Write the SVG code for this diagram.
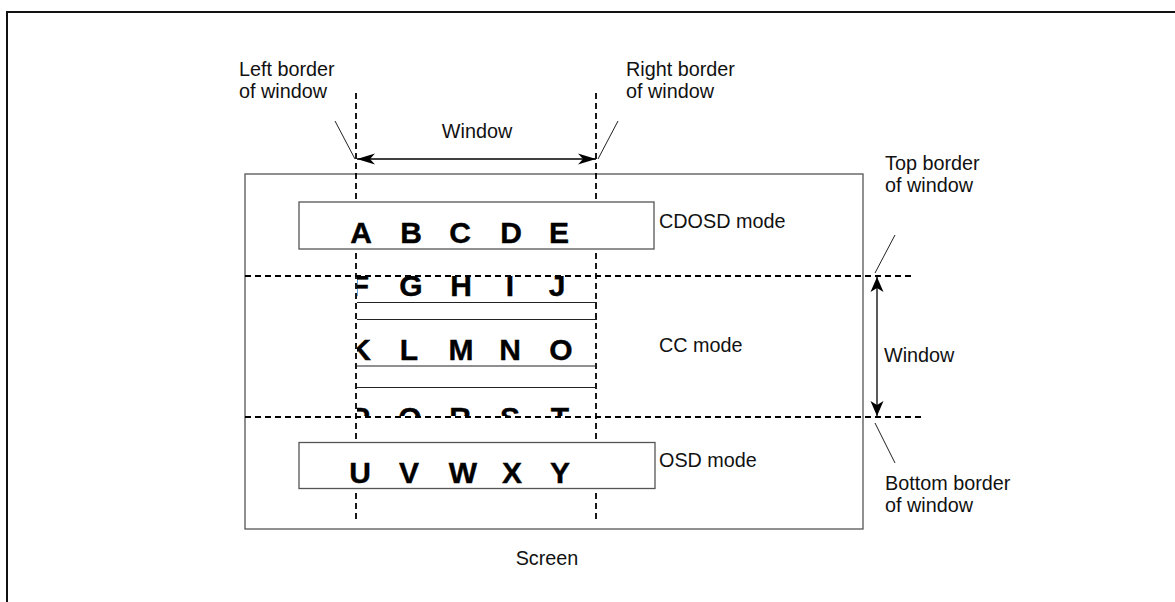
<svg xmlns="http://www.w3.org/2000/svg" width="1175" height="602" viewBox="0 0 1175 602">
<style>
.lbl{font-family:"Liberation Sans",Arial,sans-serif;font-size:19.8px;fill:#111}
.big{font-family:"Liberation Sans",Arial,sans-serif;font-size:30px;font-weight:bold;fill:#000;text-anchor:middle;stroke:#000;stroke-width:0.4}
.box{fill:#fff;stroke:#555;stroke-width:1.3}
.dash{fill:none;stroke:#000;stroke-width:1.8;stroke-dasharray:6 4}
.thin{fill:none;stroke:#222;stroke-width:1}
.rowline{fill:none;stroke:#222;stroke-width:1.2}
.arr{fill:none;stroke:#000;stroke-width:1.3}
</style>
<defs>
<marker id="ah" viewBox="0 0 19 12" refX="18" refY="6" markerWidth="19" markerHeight="12" markerUnits="userSpaceOnUse" orient="auto-start-reverse">
<path d="M18,6 L0,0.5 L5,6 L0,11.5 Z" fill="#000"/>
</marker>
<marker id="ahv" viewBox="0 0 16 14" refX="15" refY="7" markerWidth="16" markerHeight="14" markerUnits="userSpaceOnUse" orient="auto-start-reverse">
<path d="M15,7 L0,0.5 L4,7 L0,13.5 Z" fill="#000"/>
</marker>
<clipPath id="ccclip"><rect x="357" y="276" width="240" height="140"/></clipPath>
</defs>
<rect width="1175" height="602" fill="#fff"/>
<path d="M7,602 V12 H1175" fill="none" stroke="#111" stroke-width="2"/>

<g id="screen">
<rect class="box" x="245" y="174" width="618" height="355"/>
<text class="lbl" x="547" y="565" text-anchor="middle">Screen</text>
</g>

<g id="window-borders">
<line class="dash" x1="356" y1="93" x2="356" y2="523"/>
<line class="dash" x1="596" y1="93" x2="596" y2="523"/>
<line class="dash" x1="245" y1="276" x2="913" y2="276"/>
<line class="dash" x1="245" y1="417" x2="923" y2="417"/>
</g>

<g id="cc-mode">
<g clip-path="url(#ccclip)">
<text class="big" x="360" y="296">F</text>
<text class="big" x="411" y="296">G</text>
<text class="big" x="461" y="296">H</text>
<text class="big" x="510" y="296">I</text>
<text class="big" x="557" y="296">J</text>
<text class="big" x="360" y="360">K</text>
<text class="big" x="409" y="360">L</text>
<text class="big" x="461" y="360">M</text>
<text class="big" x="510" y="360">N</text>
<text class="big" x="561" y="360">O</text>
<text class="big" x="360" y="428">P</text>
<text class="big" x="410" y="428">Q</text>
<text class="big" x="460" y="428">R</text>
<text class="big" x="510" y="428">S</text>
<text class="big" x="560" y="428">T</text>
</g>
<line class="rowline" x1="357" y1="302.5" x2="597" y2="302.5"/>
<line class="rowline" x1="357" y1="319.5" x2="597" y2="319.5"/>
<line class="rowline" x1="357" y1="366" x2="597" y2="366"/>
<line class="rowline" x1="357" y1="387.5" x2="597" y2="387.5"/>
<text class="lbl" x="659" y="352">CC mode</text>
</g>

<g id="cdosd-mode">
<rect class="box" x="299" y="202" width="355" height="47"/>
<text class="big" x="361" y="243">A</text>
<text class="big" x="411" y="243">B</text>
<text class="big" x="460" y="243">C</text>
<text class="big" x="511" y="243">D</text>
<text class="big" x="559" y="243">E</text>
<text class="lbl" x="659" y="228">CDOSD mode</text>
</g>

<g id="osd-mode">
<rect class="box" x="299" y="442.5" width="356" height="46"/>
<text class="big" x="360" y="483">U</text>
<text class="big" x="409" y="483">V</text>
<text class="big" x="463" y="483">W</text>
<text class="big" x="512" y="483">X</text>
<text class="big" x="560" y="483">Y</text>
<text class="lbl" x="659" y="467">OSD mode</text>
</g>

<g id="labels">
<text class="lbl" x="239" y="76">Left border</text>
<text class="lbl" x="239" y="97.5">of window</text>
<text class="lbl" x="626" y="76">Right border</text>
<text class="lbl" x="626" y="97.5">of window</text>
<text class="lbl" x="477" y="138" text-anchor="middle">Window</text>
<text class="lbl" x="885" y="170">Top border</text>
<text class="lbl" x="885" y="191.7">of window</text>
<text class="lbl" x="884" y="362">Window</text>
<text class="lbl" x="885" y="490">Bottom border</text>
<text class="lbl" x="885" y="511.7">of window</text>
</g>

<g id="connectors">
<line class="arr" x1="357" y1="159" x2="596" y2="159" marker-start="url(#ah)" marker-end="url(#ah)"/>
<line class="arr" x1="877" y1="277" x2="877" y2="416" marker-start="url(#ahv)" marker-end="url(#ahv)"/>
<line class="thin" x1="335" y1="121" x2="355" y2="159"/>
<line class="thin" x1="618" y1="121" x2="598" y2="159"/>
<line class="thin" x1="895" y1="235" x2="875" y2="273"/>
<line class="thin" x1="875" y1="423" x2="895" y2="463"/>
</g>
</svg>
